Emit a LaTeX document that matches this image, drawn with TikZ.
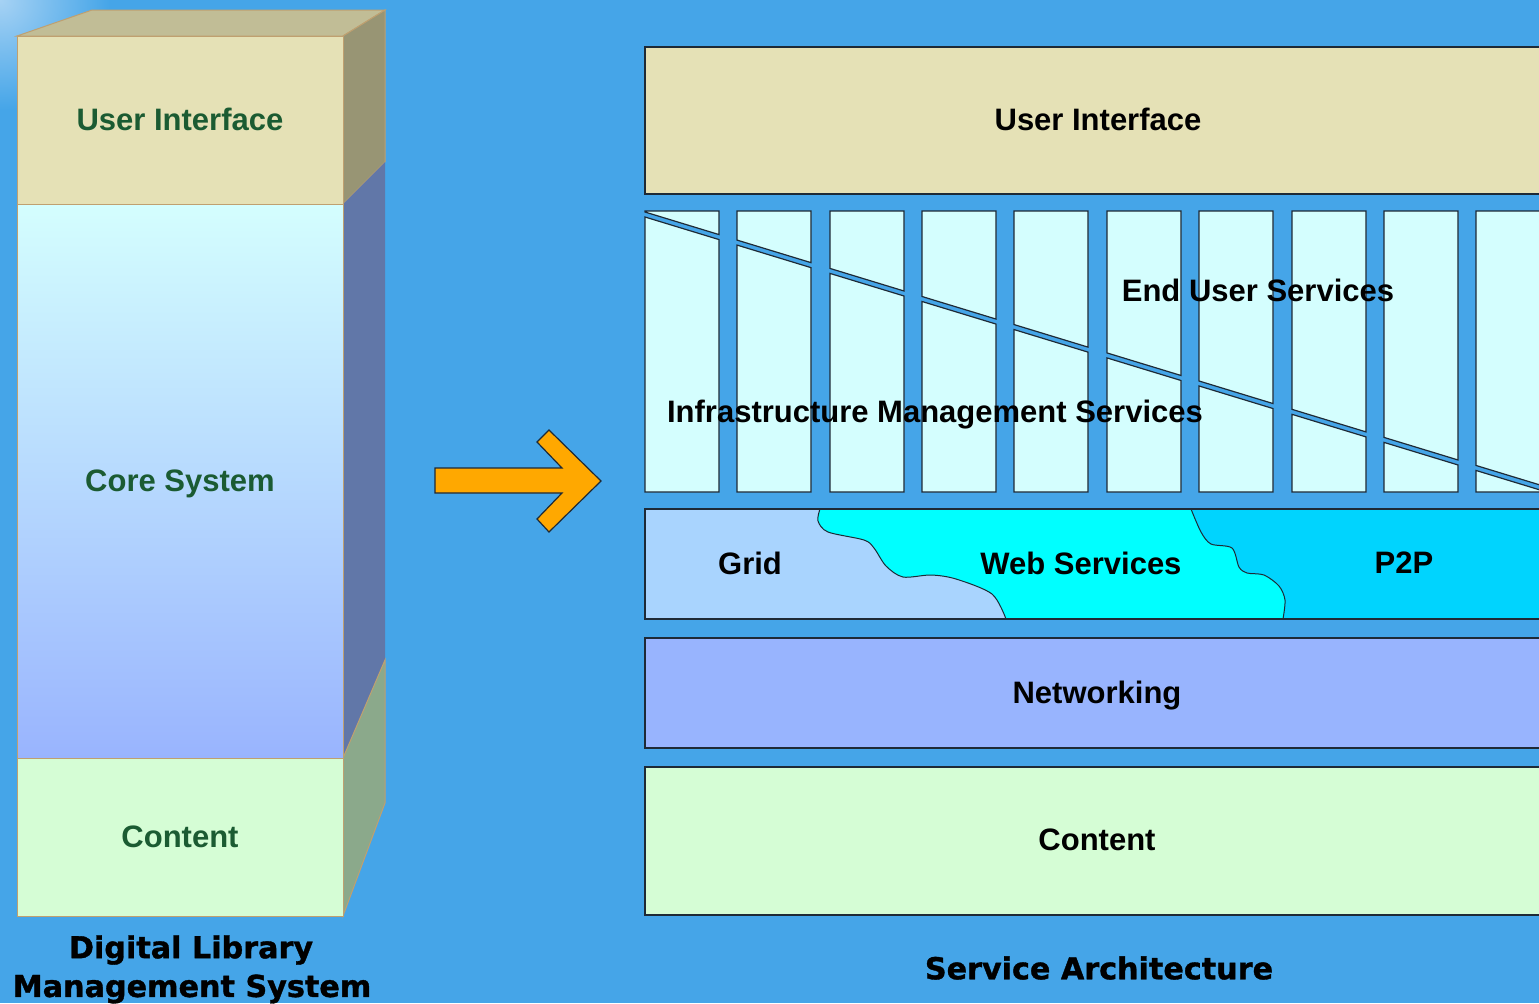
\documentclass[tikz,border=0pt]{standalone}
\usepackage{fontspec}
\setmainfont{Liberation Sans}
\newfontfamily\heavyfont[BoldFeatures={FakeBold=1.2}]{DejaVu Sans}
\begin{document}
\begin{tikzpicture}[x=0.5pt,y=-0.5pt,
  lbl/.style={font=\fontsize{15.5}{18}\selectfont\bfseries, text=black, inner sep=0pt},
  glbl/.style={lbl, text=dlgreen},
  captxt/.style={font=\heavyfont\fontsize{15.1}{18}\selectfont\bfseries, text=black, inner sep=0pt, align=center},
  cubeedge/.style={draw=tanedge, line width=0.5pt},
  layer/.style={draw=boxedge, line width=0.8pt},
  colbox/.style={draw=boxedge, line width=0.6pt, fill=colfill}]
\definecolor{bg}{HTML}{45A5E8}
\definecolor{bglight}{HTML}{A6D2F4}
\definecolor{dlgreen}{HTML}{1B5B32}
\definecolor{tanedge}{HTML}{BFA070}
\definecolor{uifront}{HTML}{E5E1B6}
\definecolor{uitop}{HTML}{C1BD96}
\definecolor{uiside}{HTML}{989574}
\definecolor{coreside}{HTML}{6177A8}
\definecolor{contside}{HTML}{8BA98B}
\definecolor{contfront}{HTML}{D5FDD5}
\definecolor{coretop}{HTML}{D4FEFE}
\definecolor{corebot}{HTML}{99B4FE}
\definecolor{boxedge}{HTML}{1E2A36}
\definecolor{colfill}{HTML}{D4FEFE}
\definecolor{gridc}{HTML}{A9D4FE}
\definecolor{webc}{HTML}{00FFFF}
\definecolor{ptpc}{HTML}{00D4FE}
\definecolor{netc}{HTML}{98B4FE}
\definecolor{arrowc}{HTML}{FFA800}

\useasboundingbox (0,0) rectangle (1539,1003);
\clip (0,0) rectangle (1539,1003);
\fill[bg] (0,0) rectangle (1539,1003);
\shade[inner color=bglight, outer color=bg] (0,0) circle (110);

% ---------- left cube ----------
\fill[uitop, cubeedge] (17,36) -- (92,10) -- (385,10) -- (343,36) -- cycle;
\fill[uiside, cubeedge] (343,36) -- (385,10) -- (385,162) -- (343,204) -- cycle;
\fill[coreside] (343,204) -- (385,162) -- (385,660) -- (343,758) -- cycle;
\fill[contside, cubeedge] (343,758) -- (385,660) -- (385,803) -- (343,916) -- cycle;
\fill[uifront, cubeedge] (17,36) rectangle (343,204);
\shade[top color=coretop, bottom color=corebot] (17,204) rectangle (343,758);
\draw[cubeedge] (17,204) rectangle (343,758);
\fill[contfront, cubeedge] (17,758) rectangle (343,916);

\node[glbl] (lui) at (180,119) {User Interface};
\node[glbl] (lcore) at (180,484) {Core System};
\node[glbl] (lcont) at (180,837) {Content};
\node[captxt] (lcap1) at (191,950) {Digital Library};
\node[captxt] (lcap2) at (192,989) {Management System};

% ---------- arrow ----------
\draw[fill=arrowc, draw=boxedge, line width=0.6pt, line join=miter]
  (435,468) -- (562,468) -- (537,442) -- (549,430) -- (601,481) -- (549,532)
  -- (537,519) -- (562,493) -- (435,493) -- cycle;

% ---------- right stack ----------
\fill[uifront, layer] (645,47) rectangle (1560,194);
\node[lbl] (rui) at (1098,119) {User Interface};

% service columns
\foreach \xa in {645,737,830,922,1014,1107,1199,1292,1384,1476}{
  \pgfmathsetmacro{\xb}{\xa==1476 ? 1560 : \xa+74}
  \pgfmathsetmacro{\ya}{212+0.305*(\xa-645)}
  \pgfmathsetmacro{\yb}{212+0.305*(\xb-645)}
  \pgfmathsetmacro{\yc}{\ya+5}
  \pgfmathsetmacro{\yd}{\yb+5}
  \draw[colbox] (\xa,211) -- (\xb,211) -- (\xb,\yb) -- (\xa,\ya) -- cycle;
  \draw[colbox] (\xa,\yc) -- (\xb,\yd) -- (\xb,492) -- (\xa,492) -- cycle;
}
\node[lbl] (eus) at (1258,290) {End User Services};
\node[lbl] (ims) at (935,415) {Infrastructure Management Services};

% middleware band
\fill[gridc] (645,509) rectangle (1560,619);
\fill[webc] plot[smooth] coordinates {(820,509) (818,521) (828,532) (864,540) (874,548) (886,566) (903,577) (931,575) (956,579) (992,594) (1006,619)}
  -- plot[smooth] coordinates {(1283,619) (1285,600) (1279,586) (1264,575) (1247,573) (1239,567) (1232,548) (1211,544) (1201,532) (1191,509)} -- cycle;
\fill[ptpc] plot[smooth] coordinates {(1191,509) (1201,532) (1211,544) (1232,548) (1239,567) (1247,573) (1264,575) (1279,586) (1285,600) (1283,619)}
  -- (1560,619) -- (1560,509) -- cycle;
\draw[boxedge, line width=0.5pt] plot[smooth] coordinates {(820,509) (818,521) (828,532) (864,540) (874,548) (886,566) (903,577) (931,575) (956,579) (992,594) (1006,619)};
\draw[boxedge, line width=0.5pt] plot[smooth] coordinates {(1191,509) (1201,532) (1211,544) (1232,548) (1239,567) (1247,573) (1264,575) (1279,586) (1285,600) (1283,619)};
\draw[layer] (645,509) rectangle (1560,619);
\node[lbl] (grid) at (750,563) {Grid};
\node[lbl] (web) at (1081,563) {Web Services};
\node[lbl] (p2p) at (1404,563) {P2P};

\fill[netc, layer] (645,638) rectangle (1560,748);
\node[lbl] (net) at (1097,696) {Networking};

\fill[contfront, layer] (645,767) rectangle (1560,915);
\node[lbl] (rcont) at (1097,840) {Content};

\node[captxt] (rcap) at (1099,968) {Service Architecture};
\end{tikzpicture}
\end{document}
